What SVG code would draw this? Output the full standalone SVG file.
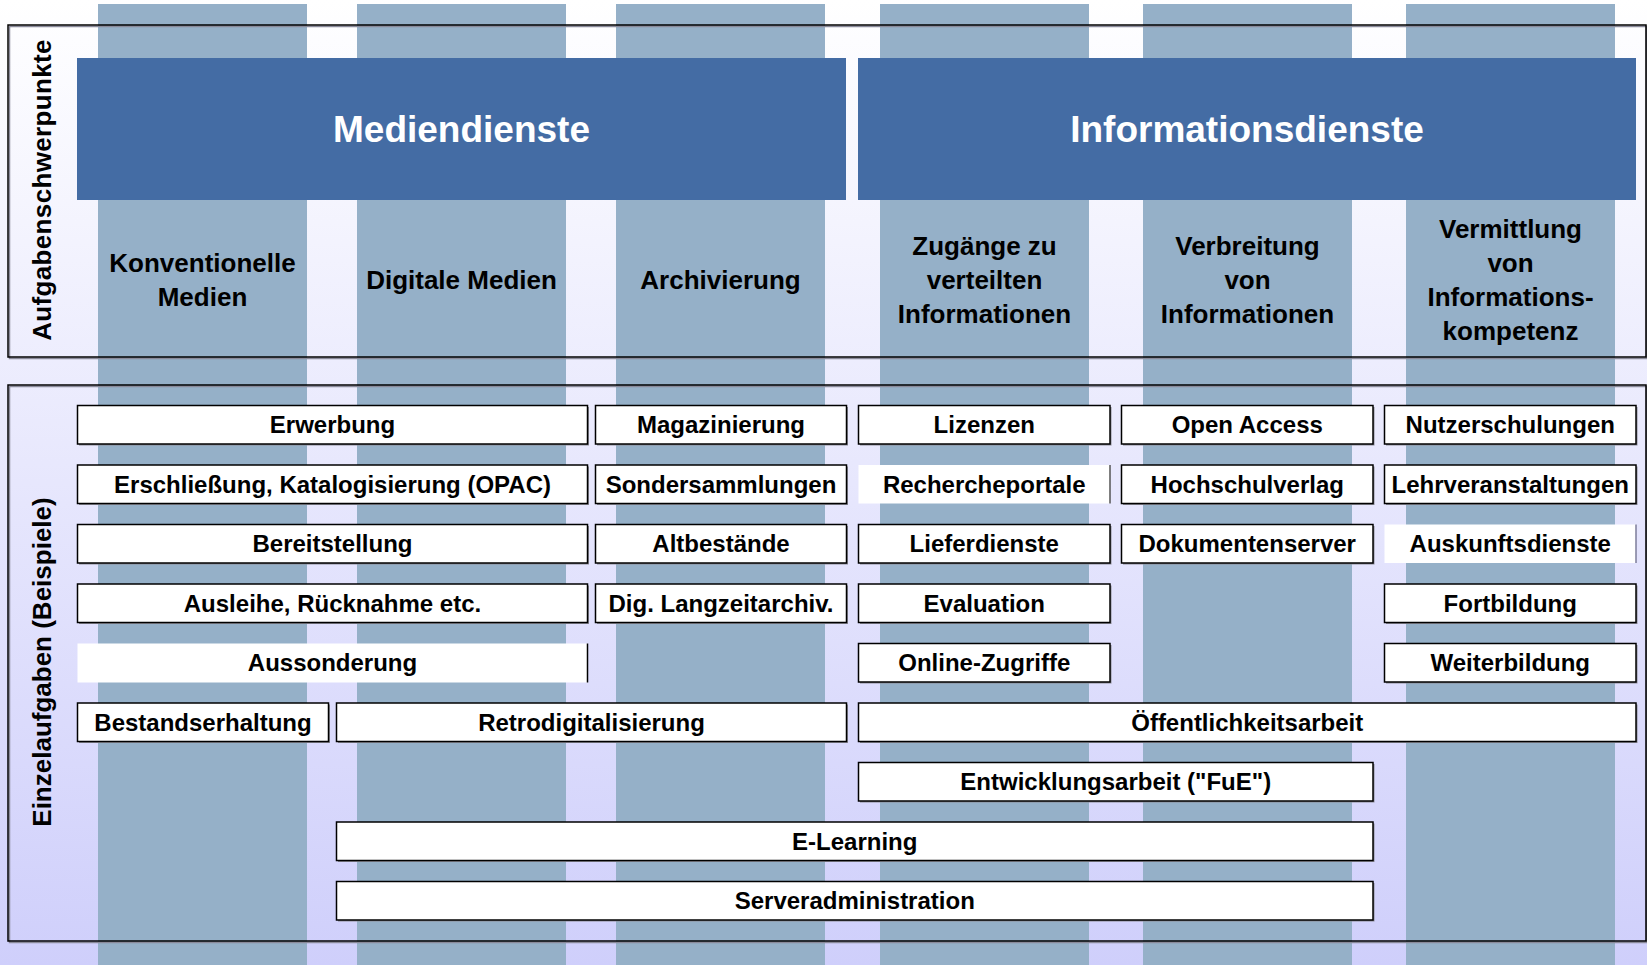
<svg xmlns="http://www.w3.org/2000/svg" width="1647" height="965" viewBox="0 0 1647 965">
<defs>
<linearGradient id="bg" x1="0" y1="0" x2="0" y2="1">
<stop offset="0" stop-color="#ffffff"/>
<stop offset="1" stop-color="#cfcffb"/>
</linearGradient>
</defs>
<style>
.stripe{fill:#95b0c8}
.frame{fill:none;stroke:#000;stroke-width:1.5}
.fshadow{fill:none;stroke:#8a8a9a;stroke-width:1.5}
.head{fill:#446ca4}
.headt{font-family:"Liberation Sans",Arial,sans-serif;font-weight:bold;font-size:37px;fill:#fff;text-anchor:middle}
.colt{font-family:"Liberation Sans",Arial,sans-serif;font-weight:bold;font-size:26px;fill:#000;text-anchor:middle}
.side{font-family:"Liberation Sans",Arial,sans-serif;font-weight:bold;font-size:26px;fill:#000;text-anchor:middle}
.box{fill:#fff;stroke:#000;stroke-width:1.5}
.plain{fill:#fff}
.shadow{fill:#8c8c96}
.bt{font-family:"Liberation Sans",Arial,sans-serif;font-weight:bold;font-size:24px;fill:#000;text-anchor:middle}
</style>
<rect x="0" y="0" width="1647" height="965" fill="url(#bg)"/>
<g id="stripes">
<rect class="stripe" x="98" y="4" width="209" height="961"/>
<rect class="stripe" x="357" y="4" width="209" height="961"/>
<rect class="stripe" x="616" y="4" width="209" height="961"/>
<rect class="stripe" x="880" y="4" width="209" height="961"/>
<rect class="stripe" x="1143" y="4" width="209" height="961"/>
<rect class="stripe" x="1406" y="4" width="209" height="961"/>
</g>
<g id="frame-top">
<rect class="fshadow" x="9.5" y="26.5" width="1637" height="332"/>
<rect class="frame" x="8" y="25" width="1638" height="332"/>
<text class="side" transform="translate(51,190) rotate(-90)" letter-spacing="0.35">Aufgabenschwerpunkte</text>
</g>
<g id="frame-bottom">
<rect class="fshadow" x="9.5" y="386.5" width="1637" height="556"/>
<rect class="frame" x="8" y="385" width="1638" height="556"/>
<text class="side" transform="translate(51,662) rotate(-90)">Einzelaufgaben (Beispiele)</text>
</g>
<g id="mediendienste">
<rect class="head" x="77" y="58" width="769" height="142"/>
<text class="headt" x="461.5" y="142">Mediendienste</text>
</g>
<g id="informationsdienste">
<rect class="head" x="858" y="58" width="778" height="142"/>
<text class="headt" x="1247" y="142">Informationsdienste</text>
</g>
<g id="col-konventionelle">
<text class="colt" x="202.5" y="272">Konventionelle</text>
<text class="colt" x="202.5" y="306">Medien</text>
</g>
<g id="col-digitale">
<text class="colt" x="461.5" y="289">Digitale Medien</text>
</g>
<g id="col-archivierung">
<text class="colt" x="720.5" y="289">Archivierung</text>
</g>
<g id="col-zugaenge">
<text class="colt" x="984.5" y="255">Zugänge zu</text>
<text class="colt" x="984.5" y="289">verteilten</text>
<text class="colt" x="984.5" y="323">Informationen</text>
</g>
<g id="col-verbreitung">
<text class="colt" x="1247.5" y="255">Verbreitung</text>
<text class="colt" x="1247.5" y="289">von</text>
<text class="colt" x="1247.5" y="323">Informationen</text>
</g>
<g id="col-vermittlung">
<text class="colt" x="1510.5" y="238">Vermittlung</text>
<text class="colt" x="1510.5" y="272">von</text>
<text class="colt" x="1510.5" y="306">Informations-</text>
<text class="colt" x="1510.5" y="340">kompetenz</text>
</g>
<g id="connectors"/>
<!-- Row 1 -->
<g id="erwerbung"><rect class="shadow" x="79" y="407" width="510" height="38.5"/><rect class="box" x="77.5" y="405.5" width="510" height="38.5"/><text class="bt" x="332.5" y="433">Erwerbung</text></g>
<g id="magazinierung"><rect class="shadow" x="597" y="407" width="251" height="38.5"/><rect class="box" x="595.5" y="405.5" width="251" height="38.5"/><text class="bt" x="721" y="433">Magazinierung</text></g>
<g id="lizenzen"><rect class="shadow" x="860" y="407" width="251.5" height="38.5"/><rect class="box" x="858.5" y="405.5" width="251.5" height="38.5"/><text class="bt" x="984.25" y="433">Lizenzen</text></g>
<g id="open-access"><rect class="shadow" x="1123" y="407" width="251.5" height="38.5"/><rect class="box" x="1121.5" y="405.5" width="251.5" height="38.5"/><text class="bt" x="1247.25" y="433">Open Access</text></g>
<g id="nutzerschulungen"><rect class="shadow" x="1386" y="407" width="251.5" height="38.5"/><rect class="box" x="1384.5" y="405.5" width="251.5" height="38.5"/><text class="bt" x="1510.25" y="433">Nutzerschulungen</text></g>
<!-- Row 2 -->
<g id="erschliessung"><rect class="shadow" x="79" y="466.5" width="510" height="38.5"/><rect class="box" x="77.5" y="465" width="510" height="38.5"/><text class="bt" x="332.5" y="492.5">Erschließung, Katalogisierung (OPAC)</text></g>
<g id="sondersammlungen"><rect class="shadow" x="597" y="466.5" width="251" height="38.5"/><rect class="box" x="595.5" y="465" width="251" height="38.5"/><text class="bt" x="721" y="492.5">Sondersammlungen</text></g>
<g id="rechercheportale"><rect class="plain" x="858.5" y="465" width="251.5" height="38.5"/><line x1="1110" y1="465" x2="1110" y2="503.5" stroke="#555" stroke-width="1.5"/><text class="bt" x="984.25" y="492.5">Rechercheportale</text></g>
<g id="hochschulverlag"><rect class="shadow" x="1123" y="466.5" width="251.5" height="38.5"/><rect class="box" x="1121.5" y="465" width="251.5" height="38.5"/><text class="bt" x="1247.25" y="492.5">Hochschulverlag</text></g>
<g id="lehrveranstaltungen"><rect class="shadow" x="1386" y="466.5" width="251.5" height="38.5"/><rect class="box" x="1384.5" y="465" width="251.5" height="38.5"/><text class="bt" x="1510.25" y="492.5">Lehrveranstaltungen</text></g>
<!-- Row 3 -->
<g id="bereitstellung"><rect class="shadow" x="79" y="526" width="510" height="38.5"/><rect class="box" x="77.5" y="524.5" width="510" height="38.5"/><text class="bt" x="332.5" y="552">Bereitstellung</text></g>
<g id="altbestaende"><rect class="shadow" x="597" y="526" width="251" height="38.5"/><rect class="box" x="595.5" y="524.5" width="251" height="38.5"/><text class="bt" x="721" y="552">Altbestände</text></g>
<g id="lieferdienste"><rect class="shadow" x="860" y="526" width="251.5" height="38.5"/><rect class="box" x="858.5" y="524.5" width="251.5" height="38.5"/><text class="bt" x="984.25" y="552">Lieferdienste</text></g>
<g id="dokumentenserver"><rect class="shadow" x="1123" y="526" width="251.5" height="38.5"/><rect class="box" x="1121.5" y="524.5" width="251.5" height="38.5"/><text class="bt" x="1247.25" y="552">Dokumentenserver</text></g>
<g id="auskunftsdienste"><rect class="plain" x="1384.5" y="524.5" width="251.5" height="38.5"/><line x1="1636" y1="524.5" x2="1636" y2="563" stroke="#7c7c9a" stroke-width="1.5"/><text class="bt" x="1510.25" y="552">Auskunftsdienste</text></g>
<!-- Row 4 -->
<g id="ausleihe"><rect class="shadow" x="79" y="585.5" width="510" height="38.5"/><rect class="box" x="77.5" y="584" width="510" height="38.5"/><text class="bt" x="332.5" y="611.5">Ausleihe, Rücknahme etc.</text></g>
<g id="langzeitarchiv"><rect class="shadow" x="597" y="585.5" width="251" height="38.5"/><rect class="box" x="595.5" y="584" width="251" height="38.5"/><text class="bt" x="721" y="611.5">Dig. Langzeitarchiv.</text></g>
<g id="evaluation"><rect class="shadow" x="860" y="585.5" width="251.5" height="38.5"/><rect class="box" x="858.5" y="584" width="251.5" height="38.5"/><text class="bt" x="984.25" y="611.5">Evaluation</text></g>
<g id="fortbildung"><rect class="shadow" x="1386" y="585.5" width="251.5" height="38.5"/><rect class="box" x="1384.5" y="584" width="251.5" height="38.5"/><text class="bt" x="1510.25" y="611.5">Fortbildung</text></g>
<!-- Row 5 -->
<g id="aussonderung"><rect class="plain" x="77.5" y="643.5" width="510" height="39"/><line x1="587.5" y1="643.5" x2="587.5" y2="682.5" stroke="#000" stroke-width="1.5"/><text class="bt" x="332.5" y="671">Aussonderung</text></g>
<g id="online-zugriffe"><rect class="shadow" x="860" y="645" width="251.5" height="38.5"/><rect class="box" x="858.5" y="643.5" width="251.5" height="38.5"/><text class="bt" x="984.25" y="671">Online-Zugriffe</text></g>
<g id="weiterbildung"><rect class="shadow" x="1386" y="645" width="251.5" height="38.5"/><rect class="box" x="1384.5" y="643.5" width="251.5" height="38.5"/><text class="bt" x="1510.25" y="671">Weiterbildung</text></g>
<!-- Row 6 -->
<g id="bestandserhaltung"><rect class="shadow" x="79" y="704.5" width="251" height="38.5"/><rect class="box" x="77.5" y="703" width="251" height="38.5"/><text class="bt" x="203" y="730.5">Bestandserhaltung</text></g>
<g id="retrodigitalisierung"><rect class="shadow" x="338" y="704.5" width="510" height="38.5"/><rect class="box" x="336.5" y="703" width="510" height="38.5"/><text class="bt" x="591.5" y="730.5">Retrodigitalisierung</text></g>
<g id="oeffentlichkeitsarbeit"><rect class="shadow" x="860" y="704.5" width="777.5" height="38.5"/><rect class="box" x="858.5" y="703" width="777.5" height="38.5"/><text class="bt" x="1247.25" y="730.5">Öffentlichkeitsarbeit</text></g>
<!-- Row 7 -->
<g id="entwicklungsarbeit"><rect class="shadow" x="860" y="764" width="514.5" height="38.5"/><rect class="box" x="858.5" y="762.5" width="514.5" height="38.5"/><text class="bt" x="1115.75" y="790">Entwicklungsarbeit ("FuE")</text></g>
<!-- Row 8 -->
<g id="e-learning"><rect class="shadow" x="338" y="823.5" width="1036.5" height="38.5"/><rect class="box" x="336.5" y="822" width="1036.5" height="38.5"/><text class="bt" x="854.75" y="849.5">E-Learning</text></g>
<!-- Row 9 -->
<g id="serveradministration"><rect class="shadow" x="338" y="883" width="1036.5" height="38.5"/><rect class="box" x="336.5" y="881.5" width="1036.5" height="38.5"/><text class="bt" x="854.75" y="909">Serveradministration</text></g>
</svg>
